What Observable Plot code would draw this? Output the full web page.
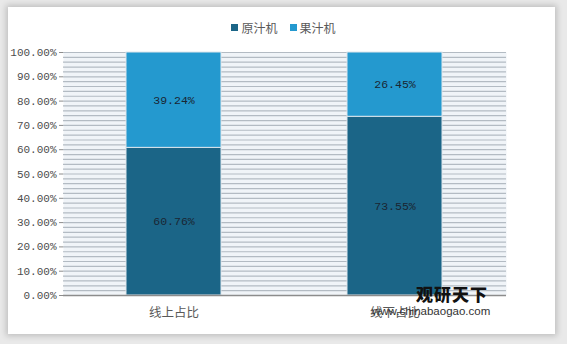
<!DOCTYPE html>
<html>
<head>
<meta charset="utf-8">
<script src="https://cdn.jsdelivr.net/npm/d3@7"></script>
<script src="https://cdn.jsdelivr.net/npm/@observablehq/plot@0.6"></script>
<style>
  html, body { margin: 0; padding: 0; background: #eeeeee; }
  #wrap { position: relative; width: 567px; height: 344px; overflow: hidden; background: #e9e9e9; }
  #card { position: absolute; left: 8px; top: 7px; width: 547px; height: 327px; background: #ffffff;
          box-shadow: 0 0 6px 2px rgba(0,0,0,0.18); }
  #legend { position: absolute; left: 0; top: 19px; width: 567px; display: flex; justify-content: center; gap: 12px;
            font-family: "Noto Sans CJK SC", sans-serif; font-size: 12px; color: #595959; }
  #legend span.item { display: flex; align-items: center; gap: 3px; }
  #legend span.sw { display: inline-block; width: 7px; height: 7px; }
  #chart { position: absolute; left: 0; top: 0; }
  #wm1 { position: absolute; left: 416px; top: 285px; font-family: "Noto Sans CJK SC", sans-serif; font-weight: 900;
         font-size: 17px; color: #111; letter-spacing: 1px; line-height: 1; }
  #wm2 { position: absolute; left: 372px; top: 306px; font-family: "Liberation Sans", Arial, sans-serif;
         font-size: 11.5px; color: #333; line-height: 1; }
</style>
</head>
<body>
<div id="wrap">
  <div id="card"></div>
  <div id="chart"></div>
  <div id="legend"></div>
  <div id="wm1">观研天下</div>
  <div id="wm2">www.chinabaogao.com</div>
</div>
<script>
const categories = ["线上占比", "线下占比"];
const seriesNames = ["原汁机", "果汁机"];
const seriesColors = ["#1b6587", "#2499cf"];
const valuesYuanzhi = [60.76, 73.55];
const valuesGuozhi = [39.24, 26.45];
const yTicks = [0, 10, 20, 30, 40, 50, 60, 70, 80, 90, 100];
const stripeLines = d3.range(0, 101, 2);

const seriesValues = [valuesYuanzhi, valuesGuozhi];
const rows = [];
categories.forEach((c, i) => {
  let base = 0;
  seriesNames.forEach((s, j) => {
    const v = seriesValues[j][i];
    rows.push({category: c, series: s, value: v, mid: base + v / 2});
    base += v;
  });
});

const legend = document.getElementById("legend");
seriesNames.forEach((s, j) => {
  const it = document.createElement("span");
  it.className = "item";
  it.innerHTML = `<span class="sw" style="background:${seriesColors[j]}"></span><span>${s}</span>`;
  legend.appendChild(it);
});

const chart = Plot.plot({
  width: 567,
  height: 344,
  marginLeft: 63,
  marginRight: 61,
  marginTop: 52,
  marginBottom: 49,
  style: {background: "transparent", overflow: "visible"},
  x: {domain: categories, paddingInner: 0.57, paddingOuter: 0.285, label: null},
  y: {domain: [0, 100], label: null},
  color: {domain: seriesNames, range: seriesColors},
  marks: [
    Plot.frame({fill: "#f0f4f8", stroke: null}),
    Plot.ruleY(stripeLines, {stroke: "#b3bbc3", strokeWidth: 1.2}),
    Plot.barY(rows, Plot.stackY({x: "category", y: "value", fill: "series", stroke: "#dde6ec", strokeWidth: 1})),
    Plot.text(rows, {x: "category", y: "mid", text: d => d.value.toFixed(2) + "%",
      fill: "#1a2633", fontSize: 11.5, fontFamily: "Liberation Mono, monospace"}),
    Plot.axisY({ticks: yTicks, tickFormat: d => d.toFixed(2) + "%", tickSize: 4, tickPadding: 3,
      stroke: "#8c8c8c", fill: "#4d4d4d", fontSize: 11, fontFamily: "Liberation Mono, monospace"}),
    Plot.ruleX([0], {frameAnchor: "left", stroke: "#8c8c8c", strokeWidth: 1.5}),
    Plot.ruleY([0], {stroke: "#8c8c8c", strokeWidth: 1.5}),
    Plot.axisX({tickSize: 0, tickPadding: 13, fill: "#595959", fontSize: 12.5, fontFamily: "Noto Sans CJK SC, sans-serif"})
  ]
});
document.getElementById("chart").appendChild(chart);
</script>
</body>
</html>
